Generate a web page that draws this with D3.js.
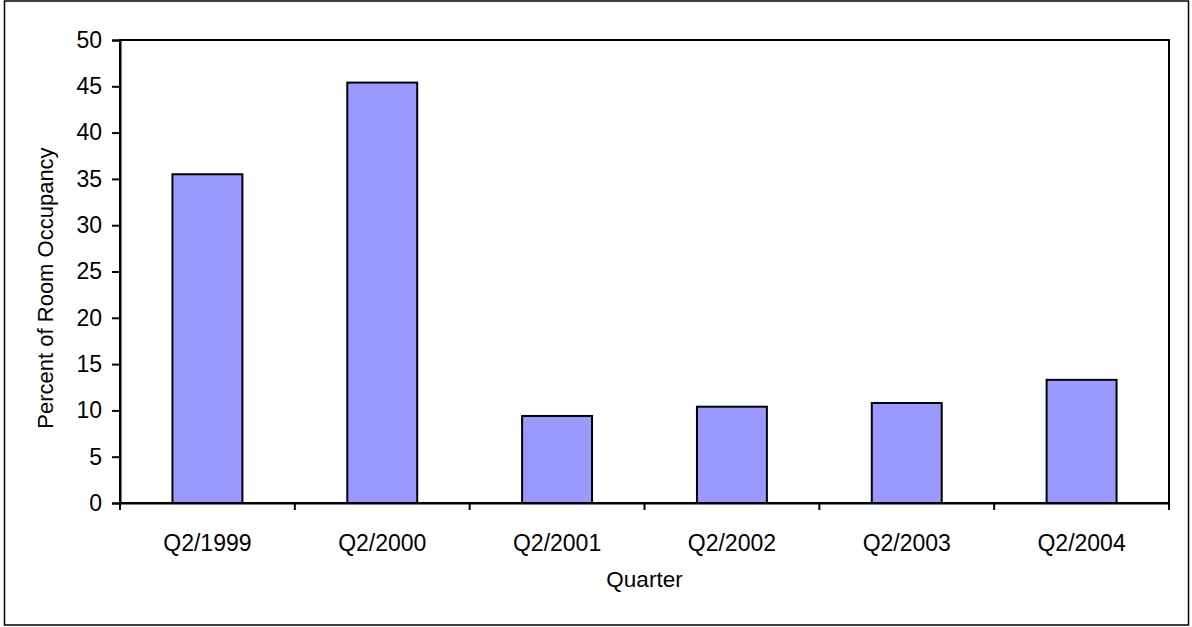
<!DOCTYPE html>
<html>
<head>
<meta charset="utf-8">
<script src="https://cdn.jsdelivr.net/npm/d3@7"></script>
<style>
  body { margin: 0; background: #fff; }
  svg text { font-family: "Liberation Sans", Arial, sans-serif; fill: #000; }
</style>
</head>
<body>
<div id="chart"></div>
<script>
// Room occupancy by quarter
const quarters = ["Q2/1999", "Q2/2000", "Q2/2001", "Q2/2002", "Q2/2003", "Q2/2004"];
const occupancy = [35.5, 45.4, 9.4, 10.4, 10.8, 13.3];
const yTicks = [0, 5, 10, 15, 20, 25, 30, 35, 40, 45, 50];

const width = 1192, height = 627;
const margin = { top: 40, right: 23, bottom: 124, left: 120 };
const fontSize = "23px";

const svg = d3.select("#chart").append("svg")
  .attr("width", width)
  .attr("height", height);

// outer frame
svg.append("rect")
  .attr("x", 4.5).attr("y", 1)
  .attr("width", 1184).attr("height", 624)
  .attr("fill", "none").attr("stroke", "#000").attr("stroke-width", 1.5);

const x = d3.scaleBand()
  .domain(quarters)
  .range([margin.left, width - margin.right])
  .padding(0);

const y = d3.scaleLinear()
  .domain([0, 50])
  .range([height - margin.bottom, margin.top]);

// plot area border
svg.append("rect")
  .attr("x", margin.left).attr("y", margin.top)
  .attr("width", width - margin.right - margin.left)
  .attr("height", y(0) - margin.top)
  .attr("fill", "none").attr("stroke", "#000").attr("stroke-width", 2);

// bars
const barW = x.bandwidth() * 0.4;
svg.selectAll("rect.bar")
  .data(quarters)
  .enter()
  .append("rect")
  .attr("class", "bar")
  .attr("x", d => x(d) + (x.bandwidth() - barW) / 2)
  .attr("y", (d, i) => y(occupancy[i]))
  .attr("width", barW)
  .attr("height", (d, i) => y(0) - y(occupancy[i]))
  .attr("fill", "#9999ff")
  .attr("stroke", "#000")
  .attr("stroke-width", 2);

// y axis
const yAxis = svg.append("g")
  .attr("transform", `translate(${margin.left},0)`)
  .call(d3.axisLeft(y).tickValues(yTicks).tickSize(8).tickPadding(10));
yAxis.selectAll("text").style("font-size", fontSize);

// x axis: ticks at category boundaries
const xAxis = svg.append("g")
  .attr("transform", `translate(0,${y(0)})`)
  .call(d3.axisBottom(x).tickSize(0).tickPadding(32));
xAxis.selectAll("text").style("font-size", fontSize);
xAxis.selectAll(".boundary")
  .data(d3.range(quarters.length + 1))
  .enter()
  .append("line")
  .attr("class", "boundary")
  .attr("x1", i => margin.left + i * x.step())
  .attr("x2", i => margin.left + i * x.step())
  .attr("y1", 0).attr("y2", 7)
  .attr("stroke", "#000").attr("stroke-width", 2);

svg.selectAll(".domain").attr("stroke-width", 2);
svg.selectAll(".tick line").attr("stroke-width", 2);

// axis titles
svg.append("text")
  .attr("x", (margin.left + width - margin.right) / 2)
  .attr("y", 587)
  .attr("text-anchor", "middle")
  .style("font-size", "22.5px")
  .text("Quarter");

svg.append("text")
  .attr("transform", "translate(53,288) rotate(-90)")
  .attr("text-anchor", "middle")
  .style("font-size", "22px")
  .text("Percent of Room Occupancy");
</script>
</body>
</html>
